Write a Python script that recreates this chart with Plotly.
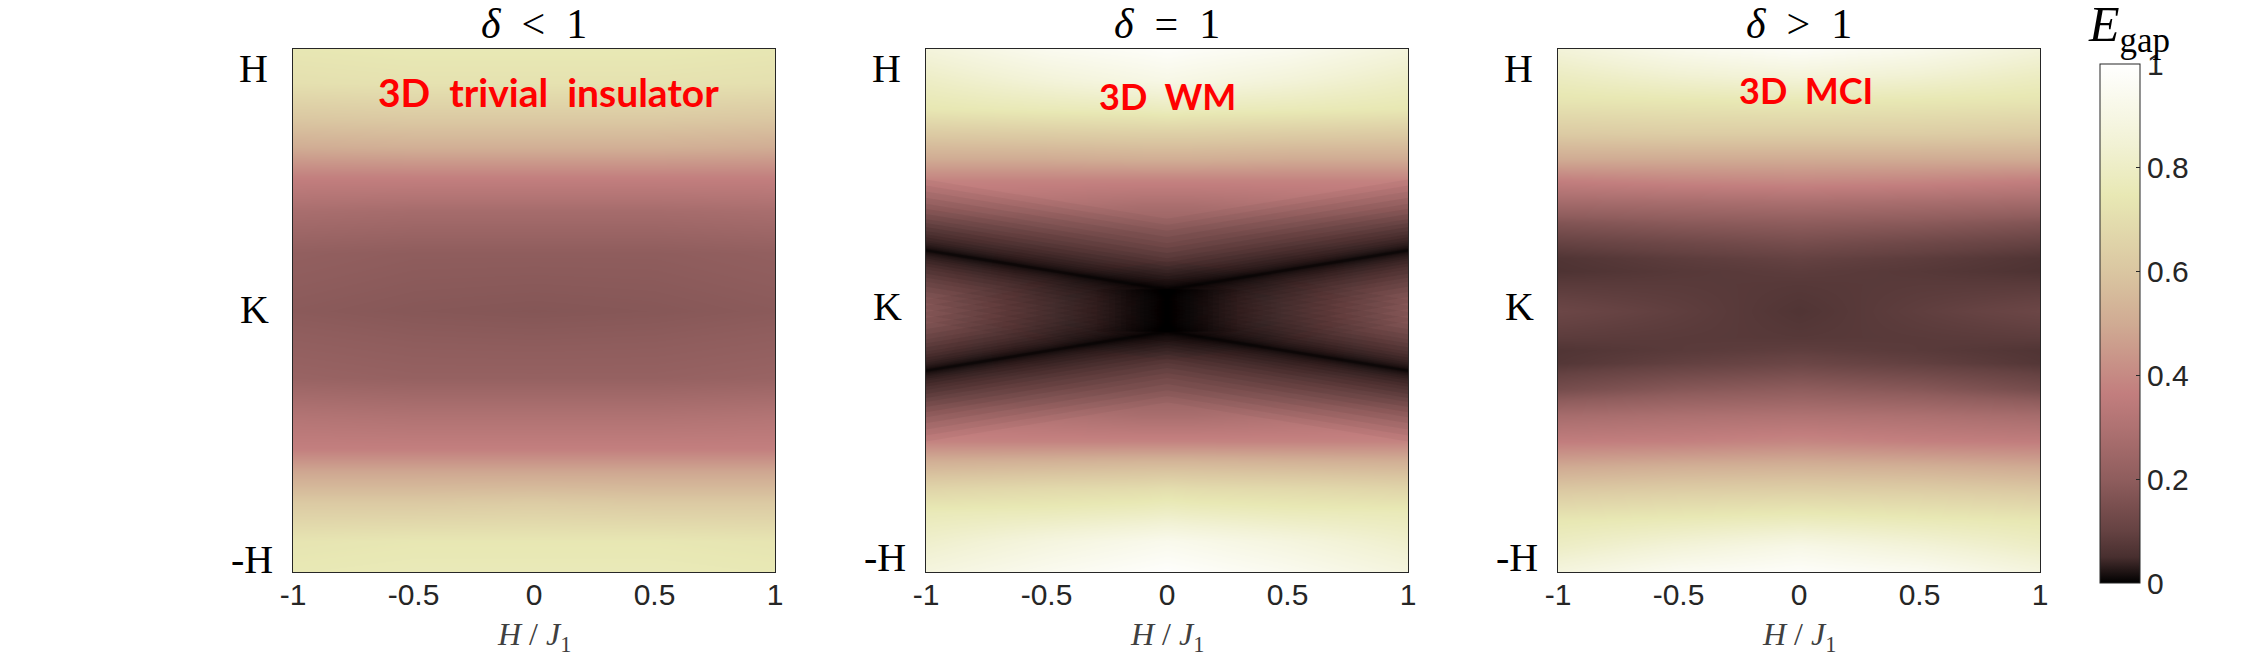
import plotly.graph_objects as go
from plotly.subplots import make_subplots

W, H = 2254, 660

# MATLAB "pink" colormap
pink_scale = [
    [0.0, "rgb(0,0,0)"], [0.05, "rgb(72,47,47)"], [0.1, "rgb(101,66,66)"],
    [0.2, "rgb(143,93,93)"], [0.3, "rgb(175,114,114)"], [0.365, "rgb(194,126,126)"],
    [0.5, "rgb(208,171,147)"], [0.6, "rgb(218,198,161)"], [0.746, "rgb(232,232,180)"],
    [0.85, "rgb(242,242,214)"], [1.0, "rgb(255,255,255)"],
]

# Data: panel 1, delta < 1
x1 = [-1, -0.5, 0, 0.5, 1]
y1 = [1, 0.87, 0.74, 0.63, 0.51, 0.38, 0.22, 0, -0.26, -0.42, -0.53, -0.61, -0.74, -0.88, -1]
z1 = [
    [0.74, 0.75, 0.75, 0.75, 0.74],
    [0.71, 0.72, 0.72, 0.72, 0.71],
    [0.61, 0.62, 0.62, 0.62, 0.61],
    [0.51, 0.52, 0.52, 0.52, 0.51],
    [0.37, 0.37, 0.37, 0.37, 0.37],
    [0.28, 0.27, 0.27, 0.27, 0.28],
    [0.21, 0.20, 0.20, 0.20, 0.21],
    [0.19, 0.18, 0.175, 0.18, 0.19],
    [0.23, 0.22, 0.22, 0.22, 0.23],
    [0.32, 0.31, 0.31, 0.31, 0.32],
    [0.37, 0.37, 0.37, 0.37, 0.37],
    [0.48, 0.48, 0.48, 0.48, 0.48],
    [0.62, 0.62, 0.63, 0.62, 0.62],
    [0.73, 0.74, 0.74, 0.74, 0.73],
    [0.75, 0.76, 0.76, 0.76, 0.75],
]

# Data: panel 2, delta = 1
x2 = [-1, -0.5, -0.1, 0, 0.1, 0.5, 1]
y2 = [1, 0.88, 0.77, 0.68, 0.58, 0.5, 0.4, 0.3, 0.23, 0.15, 0.08, 0,
      -0.08, -0.15, -0.23, -0.3, -0.4, -0.5, -0.58, -0.68, -0.77, -0.88, -1]
z2 = [
    [0.87, 0.94, 0.97, 0.98, 0.97, 0.94, 0.87],
    [0.80, 0.86, 0.90, 0.91, 0.90, 0.86, 0.80],
    [0.74, 0.76, 0.77, 0.78, 0.77, 0.76, 0.74],
    [0.62, 0.63, 0.64, 0.64, 0.64, 0.63, 0.62],
    [0.50, 0.50, 0.51, 0.51, 0.51, 0.50, 0.50],
    [0.38, 0.38, 0.38, 0.38, 0.38, 0.38, 0.38],
    [0.32, 0.30, 0.28, 0.28, 0.28, 0.30, 0.32],
    [0.23, 0.22, 0.21, 0.21, 0.21, 0.22, 0.23],
    [0.21, 0.19, 0.19, 0.19, 0.19, 0.19, 0.21],
    [0.23, 0.17, 0.14, 0.15, 0.14, 0.17, 0.23],
    [0.24, 0.16, 0.09, 0.08, 0.09, 0.16, 0.24],
    [0.25, 0.16, 0.08, 0.05, 0.08, 0.16, 0.25],
    [0.24, 0.16, 0.09, 0.08, 0.09, 0.16, 0.24],
    [0.23, 0.17, 0.14, 0.15, 0.14, 0.17, 0.23],
    [0.21, 0.19, 0.19, 0.19, 0.19, 0.19, 0.21],
    [0.23, 0.22, 0.21, 0.21, 0.21, 0.22, 0.23],
    [0.32, 0.30, 0.28, 0.28, 0.28, 0.30, 0.32],
    [0.38, 0.38, 0.38, 0.38, 0.38, 0.38, 0.38],
    [0.52, 0.53, 0.54, 0.54, 0.54, 0.53, 0.52],
    [0.66, 0.68, 0.69, 0.70, 0.69, 0.68, 0.66],
    [0.76, 0.77, 0.79, 0.80, 0.79, 0.77, 0.76],
    [0.82, 0.88, 0.92, 0.93, 0.92, 0.88, 0.82],
    [0.88, 0.94, 0.98, 0.99, 0.98, 0.94, 0.88],
]

# dark gap-closing lines of panel 2 (ends run past the frame and are clipped)
wm_line_x = [-1.5, 0, 1.5, None, -1.5, 0, 1.5, None, 0, 0]
wm_line_y = [0.305, 0.08, 0.305, None, -0.305, -0.08, -0.305, None, 0.08, -0.08]

# Data: panel 3, delta > 1
x3 = [-1, -0.5, 0, 0.5, 1]
y3 = [1, 0.9, 0.8, 0.68, 0.58, 0.5, 0.42, 0.34, 0.26, 0.2, 0.15, 0.1, 0, -0.1, -0.15, -0.2, -0.3,
      -0.4, -0.5, -0.6, -0.7, -0.8, -0.9, -1]
z3 = [
    [0.86, 0.93, 0.97, 0.93, 0.86],
    [0.79, 0.84, 0.87, 0.84, 0.79],
    [0.73, 0.74, 0.75, 0.74, 0.73],
    [0.62, 0.63, 0.63, 0.63, 0.62],
    [0.50, 0.50, 0.50, 0.50, 0.50],
    [0.37, 0.39, 0.40, 0.39, 0.37],
    [0.27, 0.28, 0.29, 0.28, 0.27],
    [0.17, 0.19, 0.20, 0.19, 0.17],
    [0.10, 0.12, 0.14, 0.12, 0.10],
    [0.065, 0.085, 0.10, 0.085, 0.065],
    [0.06, 0.075, 0.085, 0.075, 0.06],
    [0.08, 0.08, 0.075, 0.08, 0.08],
    [0.115, 0.09, 0.065, 0.09, 0.115],
    [0.085, 0.08, 0.075, 0.08, 0.085],
    [0.065, 0.08, 0.09, 0.08, 0.065],
    [0.07, 0.095, 0.115, 0.095, 0.07],
    [0.14, 0.18, 0.20, 0.18, 0.14],
    [0.27, 0.29, 0.30, 0.29, 0.27],
    [0.36, 0.37, 0.39, 0.37, 0.36],
    [0.50, 0.52, 0.53, 0.52, 0.50],
    [0.63, 0.65, 0.66, 0.65, 0.63],
    [0.74, 0.76, 0.78, 0.76, 0.74],
    [0.80, 0.86, 0.91, 0.86, 0.80],
    [0.88, 0.95, 0.98, 0.95, 0.88],
]

x_ticks = [-1, -0.5, 0, 0.5, 1]
x_labels = ["-1", "-0.5", "0", "0.5", "1"]
y_labels = ["H", "K", "-H"]
titles = ["<i>δ</i>\u00a0\u00a0&lt;\u00a0\u00a01", "<i>δ</i>\u00a0\u00a0=\u00a0\u00a01", "<i>δ</i>\u00a0\u00a0&gt;\u00a0\u00a01"]
phase_names = ["3D\u00a0\u00a0trivial\u00a0\u00a0insulator", "3D\u00a0\u00a0WM", "3D\u00a0\u00a0MCI"]
phase_x = [0.062, 0.0, 0.03]
phase_y = [0.836, 0.82, 0.843]
phase_size = [39, 36, 36]
cbar_ticks = [0, 0.2, 0.4, 0.6, 0.8, 1]

# pixel boxes of the three panels
left = [293, 926, 1558]
right = [775, 1408, 2040]
top, bottom = 49, 572
y_label_px = [[69, 309, 559], [69, 307, 557], [69, 307, 557]]
y_label_gap = [25, 24, 20]

SERIF = "Liberation Serif"
SANS = "Liberation Sans"

fig = make_subplots(rows=1, cols=3)

panels = [(x1, y1, z1), (x2, y2, z2), (x3, y3, z3)]
for i, (xs, ys, zs) in enumerate(panels):
    fig.add_trace(go.Heatmap(
        x=xs, y=ys, z=zs, zmin=0, zmax=1, zsmooth="best", colorscale=pink_scale,
        coloraxis="coloraxis",
    ), row=1, col=i + 1)

# soft valley round the gap-closing lines: faint strokes, widest first
halfwidths = [70, 64, 58, 52, 46, 41, 36, 31, 27, 23, 19, 16, 13, 10, 8, 6, 4.5, 3, 2, 1.2]
for k, d in enumerate(halfwidths):
    inner = halfwidths[k + 1] if k + 1 < len(halfwidths) else 0.4
    alpha = 1 - (inner / d) ** 0.42
    fig.add_trace(go.Scatter(
        x=wm_line_x, y=wm_line_y, mode="lines", showlegend=False, hoverinfo="skip",
        line=dict(color=f"rgba(0,0,0,{alpha:.3f})", width=2 * d),
    ), row=1, col=2)

for i in range(3):
    fig.update_xaxes(
        domain=[left[i] / W, right[i] / W], range=[-1, 1], tickmode="array",
        tickvals=x_ticks, ticktext=x_labels, ticks="", showgrid=False, zeroline=False,
        showline=True, mirror=True, linecolor="#262626", linewidth=1, ticklabelstandoff=-4,
        tickfont=dict(family=SANS, size=30, color="#262626"),
        row=1, col=i + 1,
    )
    fig.update_yaxes(
        domain=[1 - bottom / H, 1 - top / H], range=[-1, 1], showticklabels=False,
        ticks="", showgrid=False, zeroline=False,
        showline=True, mirror=True, linecolor="#262626", linewidth=1,
        row=1, col=i + 1,
    )
    mid = (left[i] + right[i]) / 2 / W
    fig.add_annotation(
        text=titles[i], xref="paper", yref="paper", x=mid, y=1 - 24 / H, showarrow=False,
        xanchor="center", yanchor="middle",
        font=dict(family=SERIF, size=42, color="black"),
    )
    fig.add_annotation(
        text="<i>H</i>\u00a0/\u00a0<i>J</i><sub>1</sub>", xref="paper", yref="paper", x=mid, y=1 - 636 / H,
        xanchor="center", yanchor="middle",
        showarrow=False, font=dict(family=SERIF, size=32, color="#404040"),
    )
    fig.add_annotation(
        text=phase_names[i], xref=f"x{i + 1}", yref=f"y{i + 1}", x=phase_x[i], y=phase_y[i],
        xanchor="center", yanchor="middle",
        showarrow=False, font=dict(family="Lato", size=phase_size[i], color="#ff0000", weight="bold"),
    )
    for label, py, gap in zip(y_labels, y_label_px[i], y_label_gap):
        fig.add_annotation(
            text=label, xref="paper", yref="paper", x=(left[i] - gap) / W, y=1 - py / H,
            xanchor="right", yanchor="middle", showarrow=False,
            xshift=2,
            font=dict(family=SERIF, size=40, color="black"),
        )

fig.add_annotation(
    text="<i>E</i><sub>gap</sub>", xref="paper", yref="paper", x=2129 / W, y=1 - 28 / H,
    xanchor="center", yanchor="middle",
    showarrow=False, font=dict(family=SERIF, size=50, color="black"),
)

fig.update_layout(
    width=W, height=H, margin=dict(l=0, r=0, t=0, b=0, autoexpand=False),
    paper_bgcolor="white", plot_bgcolor="white", showlegend=False,
    coloraxis=dict(
        cmin=0, cmax=1, colorscale=pink_scale,
        colorbar=dict(
            x=2100 / W, xanchor="left", xpad=0, ypad=0, thickness=40, thicknessmode="pixels",
            y=1 - 583 / H, yanchor="bottom", len=(583 - 64) / H, lenmode="fraction",
            tickvals=cbar_ticks, ticktext=["0", "0.2", "0.4", "0.6", "0.8", "1"],
            ticks="inside", ticklen=4, tickcolor="#262626", outlinecolor="#262626", outlinewidth=1,
            tickfont=dict(family=SANS, size=30, color="#262626"),
        ),
    ),
)

fig.write_html("out.html", config={"displayModeBar": False}, post_script="document.body.style.margin='0';")
